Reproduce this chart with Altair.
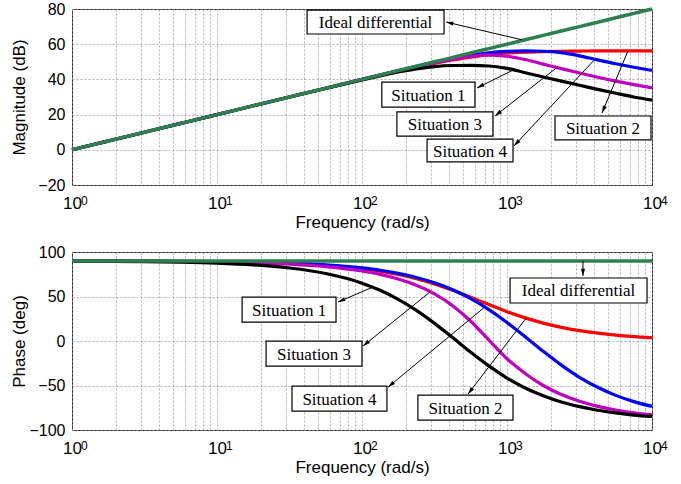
import math
import altair as alt
import pandas as pd

# ---------------- data ----------------
FREQ = [1, 1.778, 3.162, 5.623, 10, 17.78, 31.62, 56.23, 100, 133.4, 177.8, 237.1,
        316.2, 421.7, 562.3, 749.9, 1000, 1334, 1778, 2371, 3162, 4217, 5623, 7499, 10000]

IDEAL_MAG = [0, 5, 10, 15, 20, 25, 30, 35, 40, 42.5, 45, 47.5, 50, 52.5, 55, 57.5,
             60, 62.5, 65, 67.5, 70, 72.5, 75, 77.5, 80]
IDEAL_PH = [90, 90, 90, 90, 90, 90, 90, 90, 90, 90, 90, 90, 90, 90, 90, 90,
            90, 90, 90, 90, 90, 90, 90, 90, 90]

S1_MAG = [0, 5, 10, 15, 20, 25, 30, 34.9, 39.7, 42.0, 44.2, 46.0, 47.3, 47.9, 48.0, 47.6,
          46.3, 43.8, 41.4, 39.0, 36.7, 34.3, 32.1, 30.0, 28.2]
S1_PH = [89.7, 89.5, 89.2, 88.6, 87.5, 85.5, 82.0, 75.8, 65.0, 57.0, 46.8, 34.4, 19.8, 3.8,
         -12.6, -28.0, -41.6, -52.8, -61.6, -68.6, -73.8, -77.8, -80.8, -83.2, -84.8]

S2_MAG = [0, 5, 10, 15, 20, 25, 30, 35, 39.9, 42.3, 44.7, 47.0, 49.1, 51.0, 52.7, 54.1,
          55.0, 55.5, 55.8, 56.0, 56.1, 56.2, 56.2, 56.2, 56.2]
S2_PH = [89.9, 89.8, 89.7, 89.5, 89.1, 88.4, 87.2, 85.1, 81.3, 78.4, 74.7, 70.0, 64.1, 57.0,
         49.1, 40.9, 33.0, 26.0, 20.1, 15.3, 11.6, 8.8, 6.6, 5.0, 3.7]

S3_MAG = [0, 5, 10, 15, 20, 25, 30, 35, 40.0, 42.5, 44.9, 47.2, 49.4, 51.4, 53.0, 53.8,
          53.2, 51.3, 48.7, 46.1, 43.6, 41.2, 39.0, 37.0, 35.2]
S3_PH = [89.9, 89.8, 89.6, 89.4, 88.9, 88.0, 86.4, 83.6, 78.6, 74.8, 69.6, 62.6, 53.0, 39.7,
         22.2, 1.0, -20.0, -36.5, -50.0, -60.2, -67.8, -73.4, -77.5, -80.6, -82.8]

S4_MAG = [0, 5, 10, 15, 20, 25, 30, 35, 40.0, 42.5, 45.0, 47.4, 49.8, 51.9, 53.7, 55.1,
          55.9, 56.2, 56.0, 55.2, 53.4, 51.1, 48.9, 46.9, 45.1]
S4_PH = [89.9, 89.9, 89.75, 89.6, 89.2, 88.6, 87.5, 85.6, 82.1, 79.5, 76.0, 71.4, 65.4, 57.6,
         47.6, 35.3, 20.8, 4.8, -11.6, -27.1, -40.8, -52.0, -61.1, -68.1, -73.5]

TICK_F = [1, 2, 3, 4, 5, 6, 7, 8, 9, 10, 20, 30, 40, 50, 60, 70, 80, 90,
          100, 200, 300, 400, 500, 600, 700, 800, 900,
          1000, 2000, 3000, 4000, 5000, 6000, 7000, 8000, 9000, 10000]
DECADES = [1, 10, 100, 1000, 10000]
EXPONENTS = ["0", "1", "2", "3", "4"]
MAG_TICKS = [-20, 0, 20, 40, 60, 80]
PH_TICKS = [-100, -50, 0, 50, 100]

# series: name, colour, magnitude, phase  (drawing order)
SERIES = [
    ("Situation 2", "#ff0000", S2_MAG, S2_PH),
    ("Situation 4", "#0000ff", S4_MAG, S4_PH),
    ("Situation 3", "#bf00bf", S3_MAG, S3_PH),
    ("Situation 1", "#000000", S1_MAG, S1_PH),
    ("Ideal differential", "#2e8050", IDEAL_MAG, IDEAL_PH),
]

# annotations: label, box (f1, f2, v1, v2), arrow tail (fa, va) -> tip (fb, vb)
TOP_LABELS = ["Ideal differential", "Situation 1", "Situation 3", "Situation 4", "Situation 2"]
TOP_BOX_F1 = [41.8, 137, 174, 281, 2143]
TOP_BOX_F2 = [368, 601, 800, 1100, 9840]
TOP_BOX_V1 = [65.8, 24.3, 7.8, -6.9, 5.6]
TOP_BOX_V2 = [79.4, 38.5, 21.5, 6.1, 19.2]
TOP_TAIL_F = [1268, 1100, 2213, 4045, 6826]
TOP_TAIL_V = [62.5, 45.3, 46.8, 51.5, 56.2]
TOP_TIP_F = [380, 621, 826, 1117, 4520]
TOP_TIP_V = [72.6, 35.1, 19.2, 2.2, 20.9]

BOT_LABELS = ["Ideal differential", "Situation 1", "Situation 3", "Situation 4", "Situation 2"]
BOT_BOX_F1 = [1050, 14.9, 21.8, 32.9, 243]
BOT_BOX_F2 = [9240, 66.2, 100, 148.6, 1100]
BOT_BOX_V1 = [42.7, 21.3, -28.2, -78.9, -89]
BOT_BOX_V2 = [70.8, 49.4, -0.1, -50.7, -60.9]
BOT_TAIL_F = [3342, 119, 294, 700, 1352]
BOT_TAIL_V = [90, 60.6, 55, 38, 25.5]
BOT_TIP_F = [3342, 68.3, 101.6, 151, 538]
BOT_TIP_V = [73, 43.8, -5.7, -51.9, -59.7]

# ---------------- layout / style ----------------
W = 580
H_TOP = 176
H_BOT = 178
SANS = "Liberation Sans"
SERIF = "Liberation Serif"

XSCALE = alt.Scale(type="log", domain=[1, 10000], nice=False)
LABEL_EXPR = "indexof([1,10,100,1000,10000], datum.value) >= 0 ? '10' : ''"
XAXIS = alt.Axis(values=TICK_F, labelExpr=LABEL_EXPR, title="Frequency (rad/s)", grid=True,
                 ticks=False, domain=False, labelOverlap=False, labelPadding=10,
                 titlePadding=3, labelFontSize=17, labelFlush=False)


def xenc(field):
    return alt.X(f"{field}:Q", scale=XSCALE, axis=XAXIS)


def yenc(field, dom, vals, title):
    return alt.Y(f"{field}:Q", scale=alt.Scale(domain=dom, nice=False, zero=False),
                 axis=alt.Axis(values=vals, title=title, ticks=False, domain=False,
                               minExtent=38, maxExtent=38, titlePadding=6, labelPadding=7))


def angle_of(fa, va, fb, vb, dom, h):
    xa = math.log10(fa) / 4 * W
    xb = math.log10(fb) / 4 * W
    ya = (dom[1] - va) / (dom[1] - dom[0]) * h
    yb = (dom[1] - vb) / (dom[1] - dom[0]) * h
    dx, dy = xb - xa, yb - ya
    return math.degrees(math.atan2(dx, -dy)) % 360


def panel(which, dom, vals, title, h, labels, bf1, bf2, bv1, bv2, tf, tv, pf, pv):
    layers = []
    for name, col, mag, ph in SERIES:
        vv = mag if which == "mag" else ph
        df = pd.DataFrame({"f": FREQ, "v": vv})
        w = 3.5 if name == "Ideal differential" else 3.2
        layers.append(
            alt.Chart(df).mark_line(color=col, strokeWidth=w, interpolate="monotone")
            .encode(x=xenc("f"), y=yenc("v", dom, vals, title))
        )
    ann = pd.DataFrame({
        "label": labels, "f1": bf1, "f2": bf2, "v1": bv1, "v2": bv2,
        "fc": [math.sqrt(a * b) for a, b in zip(bf1, bf2)],
        "vc": [(a + b) / 2 for a, b in zip(bv1, bv2)],
        "fa": tf, "va": tv, "fb": pf, "vb": pv,
        "ang": [angle_of(a, b, c, d, dom, h) for a, b, c, d in zip(tf, tv, pf, pv)],
    })
    base = alt.Chart(ann)
    shafts = base.mark_rule(color="black", strokeWidth=1).encode(
        x=xenc("fa"), y=yenc("va", dom, vals, title), x2="fb:Q", y2="vb:Q")
    heads = base.mark_point(shape="M0,0L0.6,2.1L-0.6,2.1Z", filled=True, color="black",
                            size=49, opacity=1).encode(
        x=xenc("fb"), y=yenc("vb", dom, vals, title), angle=alt.Angle("ang:Q", scale=None))
    boxes = base.mark_rect(fill="white", stroke="black", strokeWidth=1.2).encode(
        x=xenc("f1"), x2="f2:Q", y=yenc("v1", dom, vals, title), y2="v2:Q")
    texts = base.mark_text(font=SERIF, fontSize=17, color="black", align="center",
                           baseline="middle", dy=1).encode(
        x=xenc("fc"), y=yenc("vc", dom, vals, title), text="label:N")
    # superscript exponents of the decade tick labels
    exp_df = pd.DataFrame({"f": DECADES, "e": EXPONENTS, "v": [dom[0]] * len(DECADES)})
    exps = alt.Chart(exp_df).mark_text(font=SANS, fontSize=12, color="black", align="left",
                                       baseline="alphabetic", dx=9, dy=20).encode(
        x=xenc("f"), y=yenc("v", dom, vals, title), text="e:N")
    layers += [shafts, boxes, texts, heads, exps]
    return alt.layer(*layers).properties(width=W, height=h)


top = panel("mag", [-20, 80], MAG_TICKS, "Magnitude (dB)", H_TOP, TOP_LABELS,
            TOP_BOX_F1, TOP_BOX_F2, TOP_BOX_V1, TOP_BOX_V2,
            TOP_TAIL_F, TOP_TAIL_V, TOP_TIP_F, TOP_TIP_V)
bot = panel("ph", [-100, 100], PH_TICKS, "Phase (deg)", H_BOT, BOT_LABELS,
            BOT_BOX_F1, BOT_BOX_F2, BOT_BOX_V1, BOT_BOX_V2,
            BOT_TAIL_F, BOT_TAIL_V, BOT_TIP_F, BOT_TIP_V)

chart = (
    alt.vconcat(top, bot, spacing=12)
    .properties(padding={"left": 9, "top": 0, "right": 5, "bottom": 0}, background="white")
    .configure_view(stroke="#222222", strokeWidth=1)
    .configure_axis(gridColor="#9a9a9a", gridDash=[2, 2], gridWidth=0.8,
                    labelFont=SANS, labelFontSize=16, labelColor="black",
                    titleFont=SANS, titleFontSize=17, titleFontWeight="normal",
                    titleColor="black")
)

chart.save("out.html", embed_options={"renderer": "svg", "actions": False})
